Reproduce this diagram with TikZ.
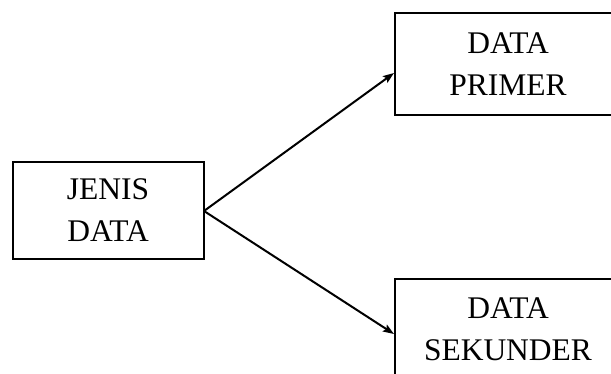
\documentclass[tikz,border=0pt]{standalone}
\usepackage{fontspec}
\setmainfont{Liberation Serif}
\usetikzlibrary{arrows.meta}
\begin{document}
\begin{tikzpicture}[x=1pt,y=-1pt,
  box/.style={draw,line width=2pt,inner sep=0pt},
  lbl/.style={align=center,font=\fontsize{31.5}{42}\selectfont,inner sep=0pt},
  conn/.style={line width=2pt,-{Stealth[length=11pt,width=8pt,inset=2pt]}}]
\useasboundingbox (0,0) rectangle (611,374);
\draw[box] (13,162) rectangle (204,259);
\node[lbl] (jenis) at (108,210.5) {JENIS\\DATA};
\coordinate (js) at (204,211);
\draw[box] (395,13) rectangle (622,115);
\node[lbl] (primer) at (508,64) {DATA\\PRIMER};
\coordinate (pt) at (394,73);
\draw[box] (395,279) rectangle (622,382);
\node[lbl] (sekunder) at (508,329) {DATA\\SEKUNDER};
\coordinate (st) at (394,334);
\draw[conn] (js) -- (pt);
\draw[conn] (js) -- (st);
\end{tikzpicture}
\end{document}
